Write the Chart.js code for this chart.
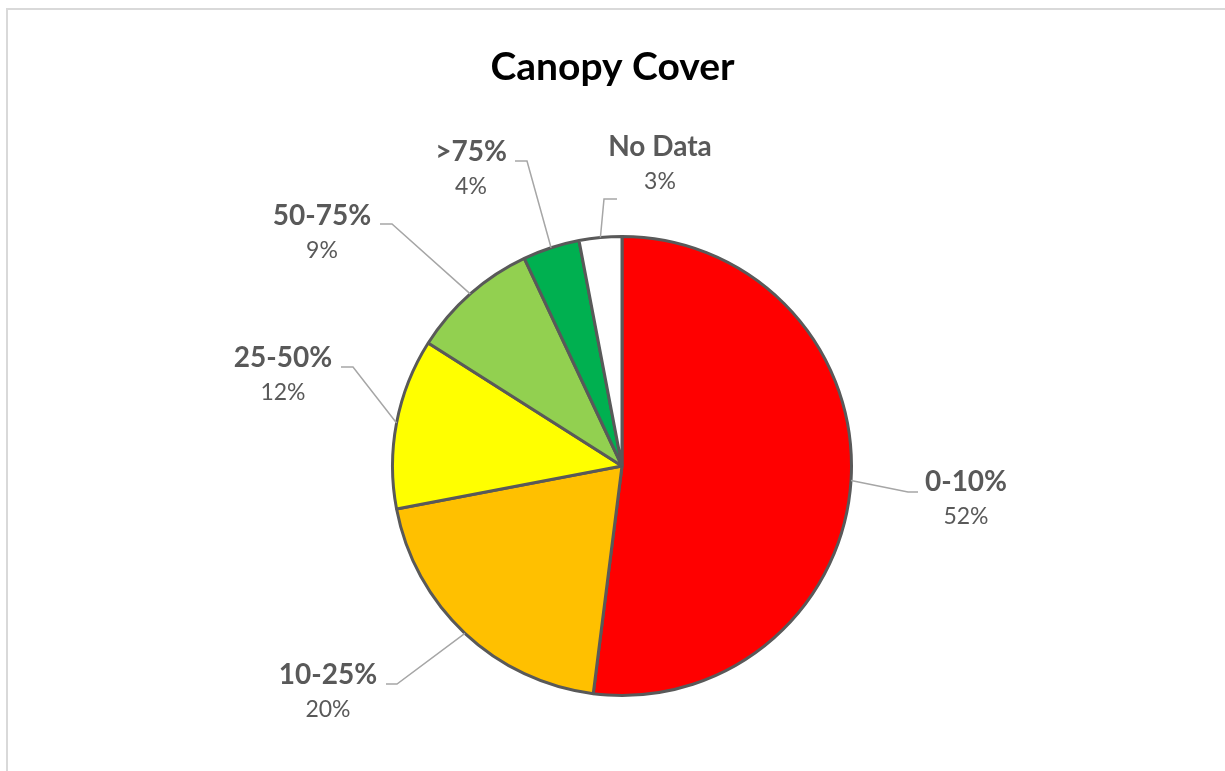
<!doctype html>
<html lang="en">
  <head>
    <meta charset="UTF-8" />
    <title>Canopy Cover</title>
    <style>
      body {
        margin: 0;
        background: #fff;
      }
      #wrap {
        width: 1225px;
        height: 771px;
      }
    </style>
  </head>
  <body>
    <div id="wrap"><canvas id="chart"></canvas></div>

    <script src="https://cdn.jsdelivr.net/npm/chart.js"></script>
    <script>
      // data
      const chartTitle = 'Canopy Cover';
      const categories = ['0-10%', '10-25%', '25-50%', '50-75%', '>75%', 'No Data'];
      const shares = [52, 20, 12, 9, 4, 3];
      const sliceColors = ['#FF0000', '#FFC000', '#FFFF00', '#92D050', '#00B050', '#FFFFFF'];

      // where Excel put each label, relative to the pie centre (px)
      // name = centre of the bold name, elbow/end = leader line bend and end
      const labelLayout = [
        { name: [344, 16], elbow: [286, 26], end: [296, 26] },
        { name: [-294, 209], elbow: [-225, 218], end: [-236, 218] },
        { name: [-339, -108], elbow: [-269, -99], end: [-281, -99] },
        { name: [-300, -250], elbow: [-230, -242], end: [-242, -242] },
        { name: [-151, -314], elbow: [-95, -305], end: [-107, -305] },
        { name: [38, -319], elbow: [-18, -267], end: [-5, -267] },
      ];

      const frame = {
        id: 'frame',
        beforeDraw(chart) {
          const ctx = chart.ctx;
          ctx.save();
          ctx.strokeStyle = '#D9D9D9';
          ctx.lineWidth = 2;
          ctx.strokeRect(7, 9, chart.width + 20, chart.height + 20);
          // title, centred on the whole chart rather than the plot area
          ctx.fillStyle = '#000000';
          ctx.font = 'bold 39px Lato';
          ctx.textAlign = 'center';
          ctx.textBaseline = 'middle';
          ctx.fillText(chartTitle, chart.width / 2, 67);
          ctx.restore();
        },
      };

      const outsideLabels = {
        id: 'outsideLabels',
        afterDatasetsDraw(chart) {
          const ctx = chart.ctx;
          const arcs = chart.getDatasetMeta(0).data;
          const total = shares.reduce((a, b) => a + b, 0);
          ctx.save();
          arcs.forEach((arc, i) => {
            const p = arc.getProps(['x', 'y', 'startAngle', 'endAngle', 'outerRadius'], true);
            const mid = (p.startAngle + p.endAngle) / 2;
            const lay = labelLayout[i];

            // leader line
            ctx.strokeStyle = '#A6A6A6';
            ctx.lineWidth = 1.5;
            ctx.beginPath();
            ctx.moveTo(p.x + Math.cos(mid) * p.outerRadius, p.y + Math.sin(mid) * p.outerRadius);
            ctx.lineTo(p.x + lay.elbow[0], p.y + lay.elbow[1]);
            ctx.lineTo(p.x + lay.end[0], p.y + lay.end[1]);
            ctx.stroke();

            // text
            const lx = p.x + lay.name[0];
            const ly = p.y + lay.name[1];
            ctx.fillStyle = '#595959';
            ctx.textAlign = 'center';
            ctx.textBaseline = 'middle';
            ctx.font = 'bold 28px Lato';
            ctx.fillText(categories[i], lx, ly);
            ctx.font = '23px Lato';
            ctx.fillText(Math.round((shares[i] / total) * 100) + '%', lx, ly + 35);
          });
          ctx.restore();
        },
      };

      new Chart(document.getElementById('chart'), {
        type: 'pie',
        data: {
          labels: categories,
          datasets: [
            {
              data: shares,
              backgroundColor: sliceColors,
              borderColor: '#595959',
              borderWidth: 3,
            },
          ],
        },
        options: {
          responsive: true,
          maintainAspectRatio: false,
          animation: false,
          layout: {
            padding: { top: 235, bottom: 74, left: 319, right: 300 },
          },
          plugins: {
            legend: { display: false },
            tooltip: { enabled: false },
            title: { display: false },
          },
        },
        plugins: [frame, outsideLabels],
      });
    </script>
  </body>
</html>
